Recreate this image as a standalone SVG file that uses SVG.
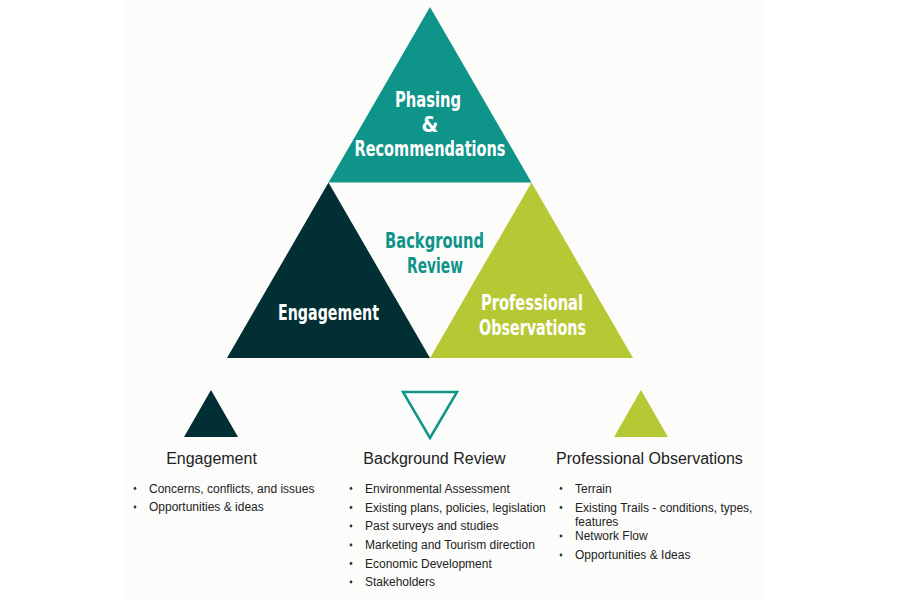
<svg xmlns="http://www.w3.org/2000/svg" width="900" height="600" viewBox="0 0 900 600">
<style>
.big{font-family:"Liberation Sans Narrow","DejaVu Sans Condensed","Liberation Sans",sans-serif;font-weight:bold;font-size:21.5px;text-anchor:middle}
.w{fill:#ffffff}
.t{fill:#0f948a}
.head{font-family:"Liberation Sans",Arial,sans-serif;font-size:16px;fill:#222222;text-anchor:middle}
.item{font-family:"Liberation Sans",Arial,sans-serif;font-size:12px;fill:#222222}
.dot{fill:#333333}
</style>
<rect x="0" y="0" width="900" height="600" fill="#ffffff"/>
<rect x="123" y="0" width="640" height="600" fill="#fcfcfb"/>
<g id="phasing">
<polygon points="430,7 328.5,182.5 531.5,182.5" fill="#0f948a"/>
<text class="big w" x="428" y="107" textLength="66" lengthAdjust="spacingAndGlyphs">Phasing</text>
<text class="big w" x="430" y="132">&amp;</text>
<text class="big w" x="430" y="156" textLength="151" lengthAdjust="spacingAndGlyphs">Recommendations</text>
</g>
<g id="engagement">
<polygon points="328.5,182.5 227,358 430,358" fill="#022f33"/>
<text class="big w" x="328.5" y="320" textLength="101" lengthAdjust="spacingAndGlyphs">Engagement</text>
</g>
<g id="background-review">
<text class="big t" x="434.5" y="248" textLength="99" lengthAdjust="spacingAndGlyphs">Background</text>
<text class="big t" x="435" y="273" textLength="56" lengthAdjust="spacingAndGlyphs">Review</text>
</g>
<g id="professional-observations">
<polygon points="531.5,182.5 430,358 633,358" fill="#b6c935"/>
<text class="big w" x="532" y="310" textLength="102" lengthAdjust="spacingAndGlyphs">Professional</text>
<text class="big w" x="532.5" y="334.5" textLength="107" lengthAdjust="spacingAndGlyphs">Observations</text>
</g>
<g id="connectors"></g>
<g id="legend-engagement">
<polygon points="211,390 184,437 238,437" fill="#022f33"/>
<text class="head" x="211.5" y="464">Engagement</text>
<circle class="dot" cx="135" cy="488.5" r="1.4"/>
<text class="item" x="149" y="492.5">Concerns, conflicts, and issues</text>
<circle class="dot" cx="135" cy="507" r="1.4"/>
<text class="item" x="149" y="511">Opportunities &amp; ideas</text>
</g>
<g id="legend-background-review">
<polygon points="403,392 457,392 430,438" fill="none" stroke="#0f948a" stroke-width="2.5" stroke-linejoin="miter"/>
<text class="head" x="434.5" y="464">Background Review</text>
<circle class="dot" cx="351" cy="488.5" r="1.4"/>
<text class="item" x="365" y="492.5">Environmental Assessment</text>
<circle class="dot" cx="351" cy="507.5" r="1.4"/>
<text class="item" x="365" y="511.5">Existing plans, policies, legislation</text>
<circle class="dot" cx="351" cy="526" r="1.4"/>
<text class="item" x="365" y="530">Past surveys and studies</text>
<circle class="dot" cx="351" cy="545" r="1.4"/>
<text class="item" x="365" y="549">Marketing and Tourism direction</text>
<circle class="dot" cx="351" cy="563.5" r="1.4"/>
<text class="item" x="365" y="567.5">Economic Development</text>
<circle class="dot" cx="351" cy="582" r="1.4"/>
<text class="item" x="365" y="586">Stakeholders</text>
</g>
<g id="legend-professional-observations">
<polygon points="641,390 614,437 668,437" fill="#b6c935"/>
<text class="head" x="649.5" y="464">Professional Observations</text>
<circle class="dot" cx="561" cy="488.5" r="1.4"/>
<text class="item" x="575" y="492.5">Terrain</text>
<circle class="dot" cx="561" cy="507.5" r="1.4"/>
<text class="item" x="575" y="511.5">Existing Trails - conditions, types,</text>
<text class="item" x="575" y="525.5">features</text>
<circle class="dot" cx="561" cy="536" r="1.4"/>
<text class="item" x="575" y="540">Network Flow</text>
<circle class="dot" cx="561" cy="555" r="1.4"/>
<text class="item" x="575" y="559">Opportunities &amp; Ideas</text>
</g>
</svg>
